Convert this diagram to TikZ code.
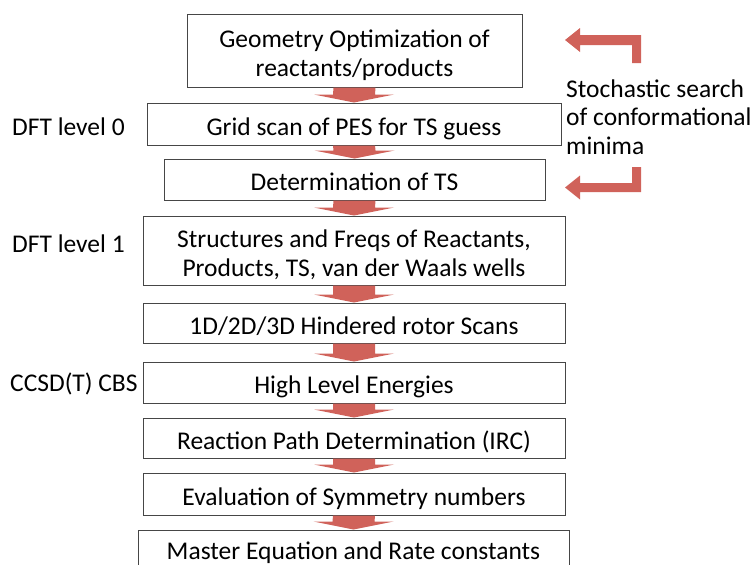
\documentclass[tikz,border=0pt]{standalone}
\usepackage{fontspec}
\setmainfont{Carlito}
\usetikzlibrary{calc}
\definecolor{flow}{RGB}{208,98,90}
\definecolor{frame}{RGB}{70,70,70}

% invisible struts on the first and last line: they set the text a little
% below the centre of its box
\newcommand{\capstrut}{\rule{0pt}{29.5pt}}
\newcommand{\descstrut}{\rule[-7pt]{0pt}{0pt}}

% block arrow from the bottom of one step to the top of the next
\newcommand{\flowstep}[2]{%
  \fill[flow] ($(#1.south)+(-21,0)$) -- ($(#1.south)+(21,0)$)
    -- ($(#2.north)+(21,-8)$) -- ($(#2.north)+(40,-8)$) -- (#2.north)
    -- ($(#2.north)+(-40,-8)$) -- ($(#2.north)+(-21,-8)$) -- cycle;}

\begin{document}
\begin{tikzpicture}[x=1pt,y=-1pt,
  txt/.style={font=\fontsize{25.5}{28.5}\selectfont},
  stepbox/.style={txt, draw=frame, line width=1pt, fill=white, inner sep=0pt, align=center},
  wide/.style={stepbox, minimum width=422pt},
  lbl/.style={txt, inner sep=0pt, anchor=west}]
\useasboundingbox (0,0) rectangle (756,565);
\clip (0,0) rectangle (756,565);

% workflow steps
\node[stepbox, minimum width=335pt, minimum height=73pt] (geo) at (354.5,50.5)
  {\capstrut Geometry Optimization of\\reactants/products\descstrut};
\node[stepbox, minimum width=414pt, minimum height=42pt] (grid) at (354,124)
  {\capstrut Grid scan of PES for TS guess\descstrut};
\node[stepbox, minimum width=381pt, minimum height=41pt] (ts) at (354.5,179.5)
  {\capstrut Determination of TS\descstrut};
\node[wide, minimum height=69pt] (freq) at (354,250.5)
  {\capstrut Structures and Freqs of Reactants,\\Products, TS, van der Waals wells\descstrut};
\node[wide, minimum height=40pt] (rotor) at (354,323)
  {\capstrut 1D/2D/3D Hindered rotor Scans\descstrut};
\node[wide, minimum height=41pt] (energy) at (354,382.5)
  {\capstrut High Level Energies\descstrut};
\node[wide, minimum height=40pt] (irc) at (354,438)
  {\capstrut Reaction Path Determination (IRC)\descstrut};
\node[wide, minimum height=42pt] (sym) at (354,494)
  {\capstrut Evaluation of Symmetry numbers\descstrut};
\node[stepbox, minimum width=431pt, minimum height=37pt] (master) at (353.5,548.5)
  {\capstrut Master Equation and Rate constants\descstrut};

% arrows between consecutive steps
\flowstep{geo}{grid}
\flowstep{grid}{ts}
\flowstep{ts}{freq}
\flowstep{freq}{rotor}
\flowstep{rotor}{energy}
\flowstep{energy}{irc}
\flowstep{irc}{sym}
\flowstep{sym}{master}

% level of theory labels
\node[lbl] (lvl0) at (12,127) {DFT level 0};
\node[lbl] (lvl1) at (12,244) {DFT level 1};
\node[lbl] (lvlcc) at (10,384) {CCSD(T) CBS};

% conformational search note with its two bent arrows
\node[lbl, align=left] (stoch) at (566,117) {Stochastic search\\of conformational\\minima};
\fill[flow] (632,63) -- (641,63) -- (641,35) -- (580,35) -- (580,28) -- (565,40)
  -- (580,52) -- (580,45) -- (632,45) -- cycle;
\fill[flow] (632,167) -- (641,167) -- (641,192) -- (580,192) -- (580,199.5) -- (565,187.5)
  -- (580,175.5) -- (580,183) -- (632,183) -- cycle;
\end{tikzpicture}
\end{document}
